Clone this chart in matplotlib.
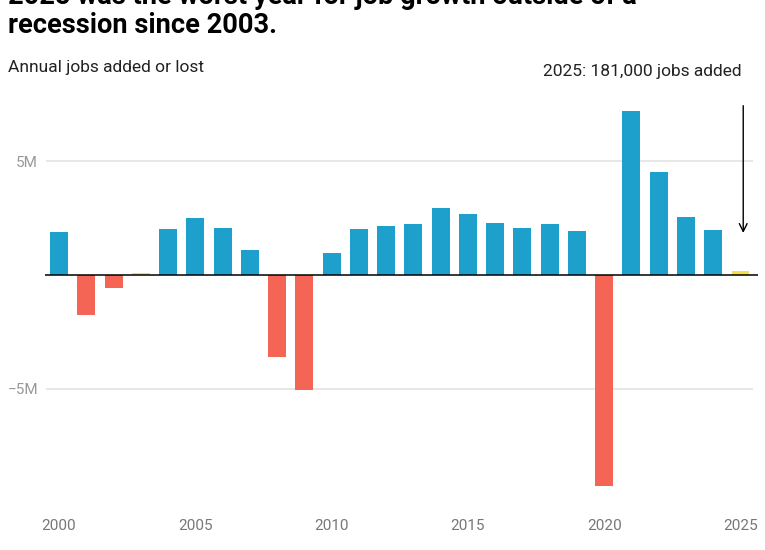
import matplotlib
matplotlib.use("Agg")
import matplotlib.pyplot as plt

years = list(range(2000, 2026))
jobs_millions = [1.90, -1.76, -0.55, 0.10, 2.03, 2.51, 2.07, 1.10, -3.60, -5.05,
                 0.97, 2.03, 2.16, 2.25, 2.95, 2.69, 2.29, 2.07, 2.25, 1.94,
                 -9.28, 7.22, 4.54, 2.55, 1.98, 0.181]
category = ["up", "down", "down", "weak", "up", "up", "up", "up", "down", "down",
            "up", "up", "up", "up", "up", "up", "up", "up", "up", "up",
            "down", "up", "up", "up", "up", "weak"]
colors_map = {"up": "#1da1cc", "down": "#f56555", "weak": "#f4e245"}
ytick_vals = [5, -5]
ytick_labels = ["5M", "\u22125M"]
xtick_vals = [2000, 2005, 2010, 2015, 2020, 2025]

title_line1 = "2025 was the worst year for job growth outside of a"
title_line2 = "recession since 2003."
subtitle = "Annual jobs added or lost"
annotation = "2025: 181,000 jobs added"

plt.rcParams['font.family'] = ['Roboto', 'DejaVu Sans']

W, H = 765, 550
fig = plt.figure(figsize=(W / 100, H / 100), dpi=100)

# axes in pixel coords: left 45, right 758, top 95, bottom 500
ax_l, ax_r, ax_t, ax_b = 45, 758, 95, 500
ax = fig.add_axes([ax_l / W, 1 - ax_b / H, (ax_r - ax_l) / W, (ax_b - ax_t) / H])

px_per_year = (740.5 - 59) / 25
x_left = 2000 - (59 - ax_l) / px_per_year
x_right = 2025 + (ax_r - 740.5) / px_per_year
px_per_m = (389 - 161.7) / 10
zero_px = 275
y_top = (zero_px - ax_t) / px_per_m
y_bot = -(ax_b - zero_px) / px_per_m
ax.set_xlim(x_left, x_right)
ax.set_ylim(y_bot, y_top)

for s in ax.spines.values():
    s.set_visible(False)

grid_right = 2025 + (753 - 740.5) / px_per_year
grid_left = 2000 - (59 - 46) / px_per_year
ax.hlines(ytick_vals, grid_left, grid_right, color="#e3e3e3", lw=1.2, zorder=0)

ax.bar(years, jobs_millions, width=0.66,
       color=[colors_map[c] for c in category], zorder=2)
ax.axhline(0, color="black", lw=1.1, zorder=3)

ax.set_yticks(ytick_vals)
ax.set_yticklabels(ytick_labels, color="#999999", fontsize=11)
ax.tick_params(axis="y", length=0, pad=5)
ax.set_xticks(xtick_vals)
ax.set_xticklabels([str(v) for v in xtick_vals], color="#777777", fontsize=11)
ax.tick_params(axis="x", length=0, pad=14)

ax.annotate("", xy=(2025.1, 1.85), xytext=(2025.1, 7.45),
            arrowprops=dict(arrowstyle="->", color="black", lw=1.0,
                            mutation_scale=14, shrinkA=0, shrinkB=0))

fig.text(8 / W, 1 - 3.5 / H, title_line1, fontsize=19.6, fontweight="bold",
         color="black", va="baseline", ha="left")
fig.text(8 / W, 1 - 33 / H, title_line2, fontsize=19.6, fontweight="bold",
         color="black", va="baseline", ha="left")
fig.text(8 / W, 1 - 72 / H, subtitle, fontsize=12.5, color="#222222",
         va="baseline", ha="left")
fig.text(742 / W, 1 - 76 / H, annotation, fontsize=12.5, color="#222222",
         va="baseline", ha="right")

fig.savefig("out.png", dpi=100, facecolor="white")
